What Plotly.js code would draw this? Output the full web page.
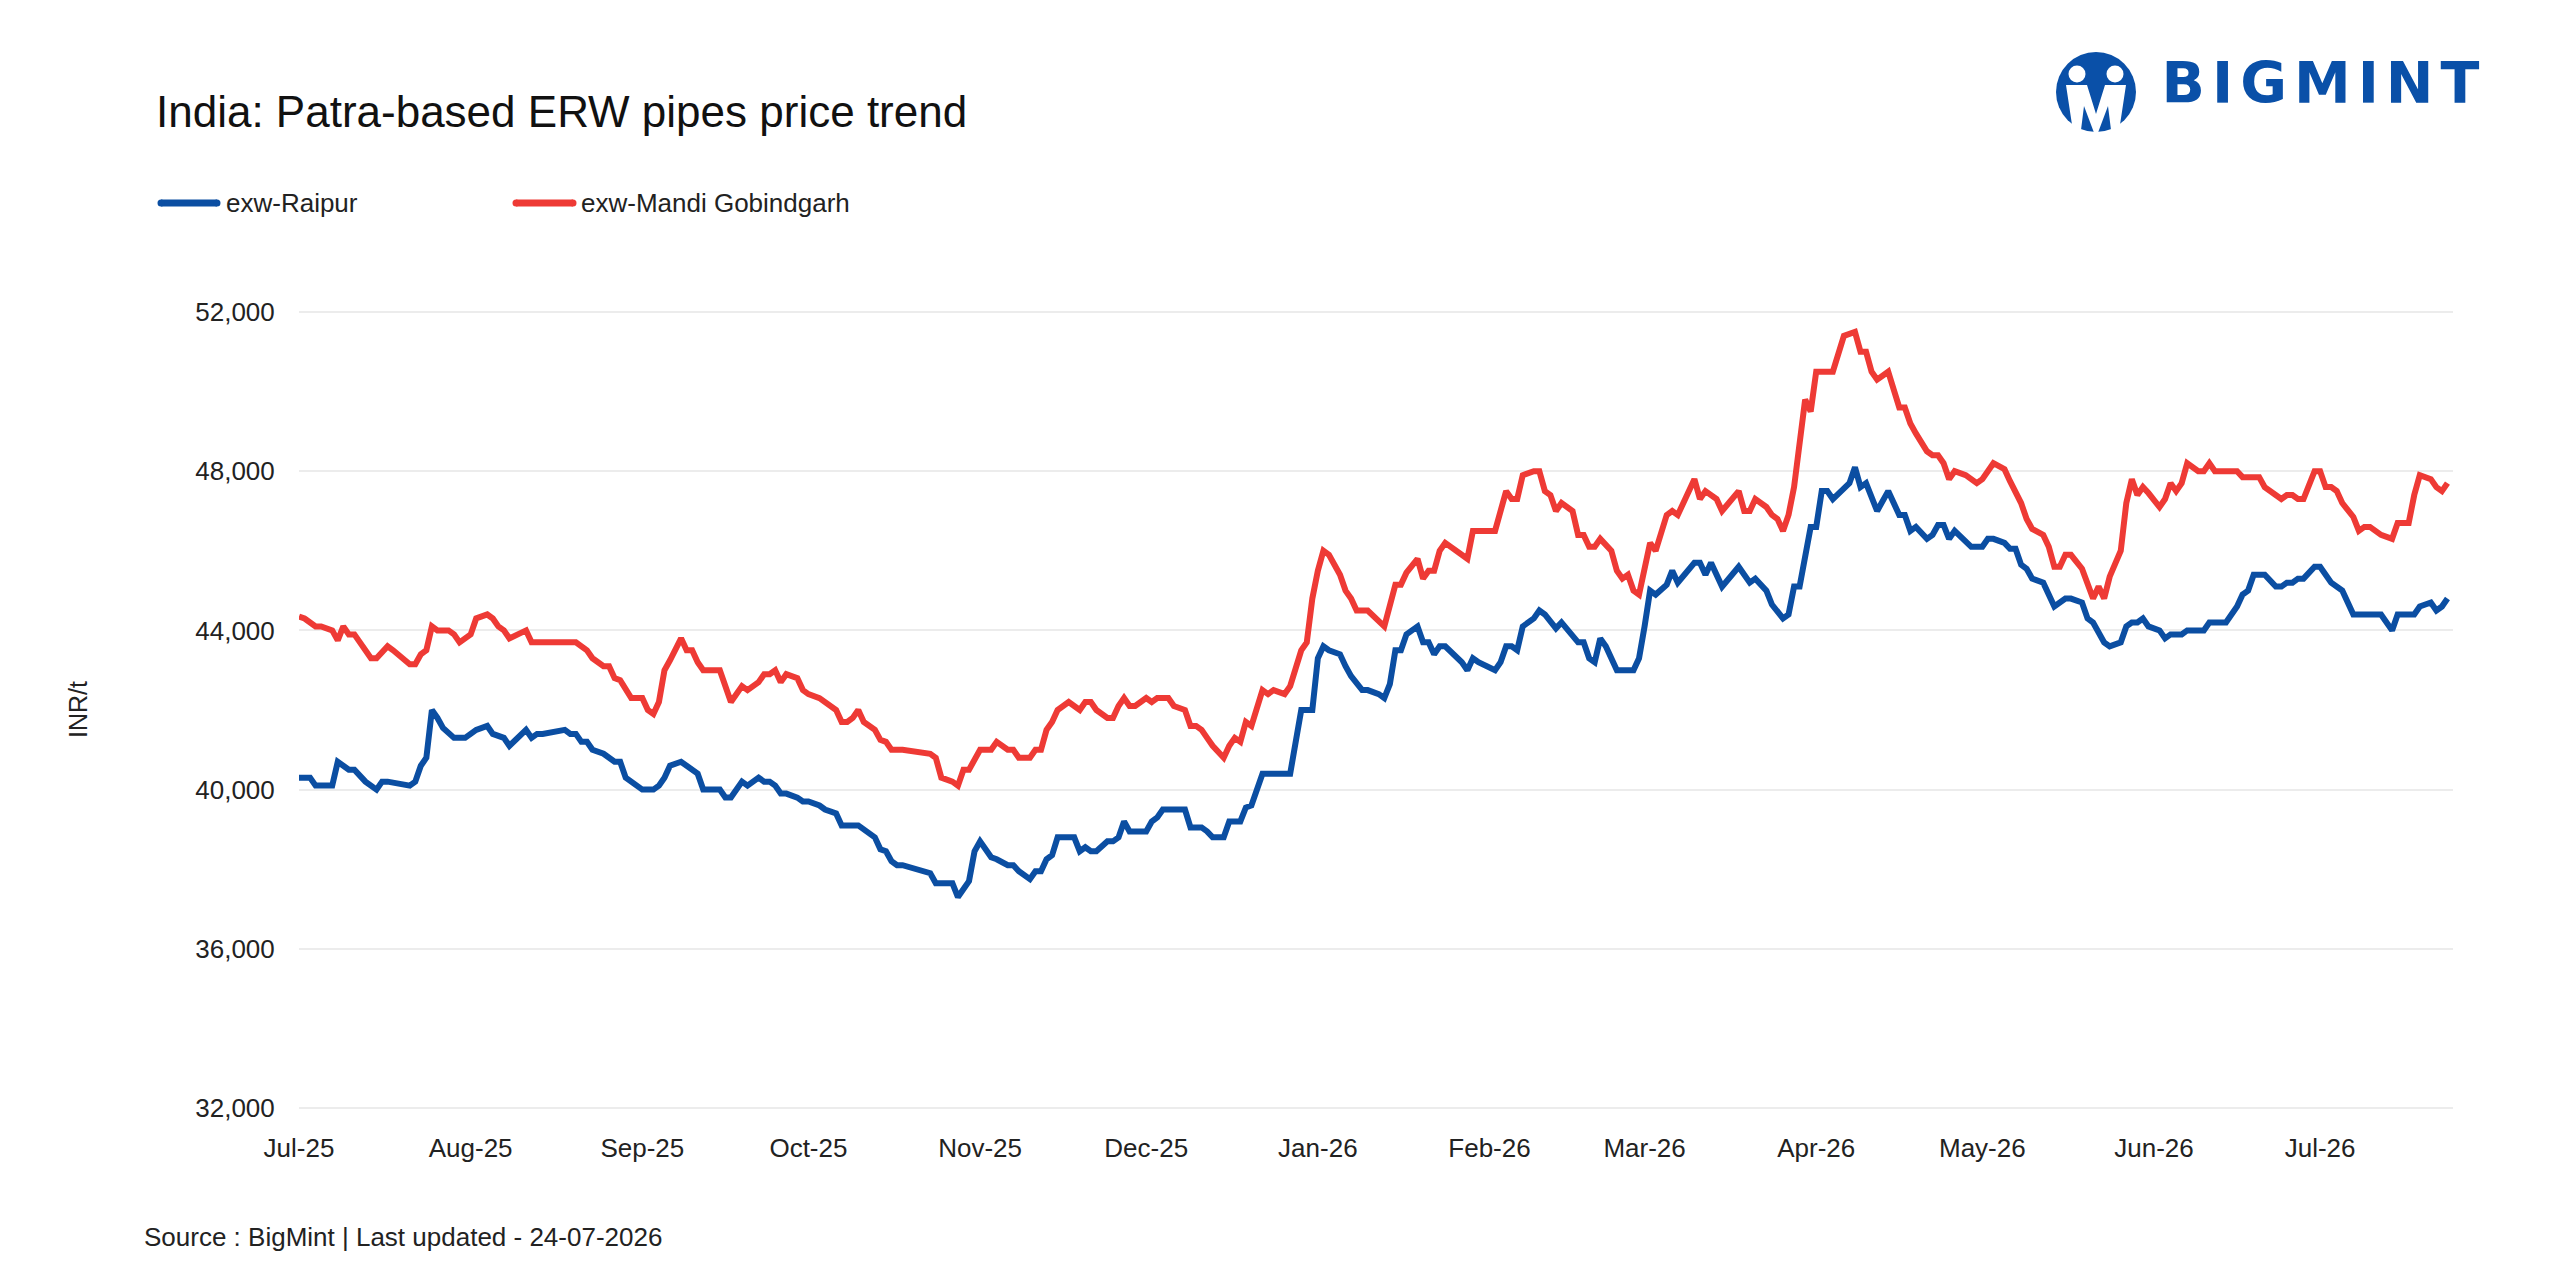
<!DOCTYPE html>
<html>
<head>
<meta charset="utf-8">
<title>India: Patra-based ERW pipes price trend</title>
<script src="https://cdn.plot.ly/plotly-3.0.1.min.js"></script>
<style>
    html, body { margin: 0; padding: 0; background: #ffffff; }
    #chart { width: 2560px; height: 1280px; }
    /* spread the logo word a little, like the brand mark */
    g.annotation[data-index="0"] text { letter-spacing: 7px; }
</style>
</head>
<body>
<div id="chart"></div>
<script>
// Price series (INR/t)

const raipurDates = [
    '2025-07-01','2025-07-03','2025-07-04','2025-07-07','2025-07-08','2025-07-10','2025-07-11','2025-07-13','2025-07-15','2025-07-16',
    '2025-07-17','2025-07-21','2025-07-22','2025-07-23','2025-07-24','2025-07-25','2025-07-26','2025-07-27','2025-07-29','2025-07-31',
    '2025-08-02','2025-08-04','2025-08-05','2025-08-07','2025-08-08','2025-08-11','2025-08-12','2025-08-13','2025-08-14','2025-08-18',
    '2025-08-19','2025-08-20','2025-08-21','2025-08-22','2025-08-23','2025-08-25','2025-08-27','2025-08-28','2025-08-29','2025-09-01',
    '2025-09-03','2025-09-04','2025-09-05','2025-09-06','2025-09-08','2025-09-09','2025-09-11','2025-09-12','2025-09-15','2025-09-16',
    '2025-09-17','2025-09-19','2025-09-20','2025-09-22','2025-09-23','2025-09-24','2025-09-25','2025-09-26','2025-09-27','2025-09-29',
    '2025-09-30','2025-10-01','2025-10-03','2025-10-04','2025-10-06','2025-10-07','2025-10-10','2025-10-13','2025-10-14','2025-10-15',
    '2025-10-16','2025-10-17','2025-10-18','2025-10-23','2025-10-24','2025-10-27','2025-10-28','2025-10-30','2025-10-31','2025-11-01',
    '2025-11-03','2025-11-04','2025-11-06','2025-11-07','2025-11-08','2025-11-10','2025-11-11','2025-11-12','2025-11-13','2025-11-14',
    '2025-11-15','2025-11-18','2025-11-19','2025-11-20','2025-11-21','2025-11-22','2025-11-24','2025-11-25','2025-11-26','2025-11-27',
    '2025-11-28','2025-12-01','2025-12-02','2025-12-03','2025-12-04','2025-12-08','2025-12-09','2025-12-11','2025-12-12','2025-12-13',
    '2025-12-15','2025-12-16','2025-12-18','2025-12-19','2025-12-20','2025-12-22','2025-12-27','2025-12-29','2025-12-31','2026-01-01',
    '2026-01-02','2026-01-03','2026-01-05','2026-01-06','2026-01-07','2026-01-09','2026-01-10','2026-01-12','2026-01-13','2026-01-14',
    '2026-01-15','2026-01-16','2026-01-17','2026-01-19','2026-01-20','2026-01-21','2026-01-22','2026-01-23','2026-01-24','2026-01-27',
    '2026-01-28','2026-01-29','2026-01-30','2026-02-02','2026-02-03','2026-02-04','2026-02-05','2026-02-06','2026-02-07','2026-02-09',
    '2026-02-10','2026-02-11','2026-02-12','2026-02-13','2026-02-14','2026-02-16','2026-02-17','2026-02-18','2026-02-19','2026-02-20',
    '2026-02-21','2026-02-22','2026-02-23','2026-02-24','2026-02-27','2026-02-28','2026-03-01','2026-03-02','2026-03-03','2026-03-05',
    '2026-03-06','2026-03-07','2026-03-10','2026-03-11','2026-03-12','2026-03-13','2026-03-15','2026-03-18','2026-03-20','2026-03-21',
    '2026-03-23','2026-03-24','2026-03-26','2026-03-27','2026-03-28','2026-03-29','2026-03-31','2026-04-01','2026-04-02','2026-04-03',
    '2026-04-04','2026-04-07','2026-04-08','2026-04-09','2026-04-10','2026-04-12','2026-04-14','2026-04-16','2026-04-17','2026-04-18',
    '2026-04-19','2026-04-21','2026-04-22','2026-04-23','2026-04-24','2026-04-25','2026-04-26','2026-04-28','2026-04-29','2026-05-01',
    '2026-05-02','2026-05-03','2026-05-05','2026-05-06','2026-05-07','2026-05-08','2026-05-09','2026-05-10','2026-05-12','2026-05-14',
    '2026-05-16','2026-05-17','2026-05-19','2026-05-20','2026-05-21','2026-05-23','2026-05-24','2026-05-26','2026-05-27','2026-05-28',
    '2026-05-29','2026-05-30','2026-05-31','2026-06-02','2026-06-03','2026-06-04','2026-06-06','2026-06-07','2026-06-10','2026-06-11',
    '2026-06-14','2026-06-16','2026-06-17','2026-06-18','2026-06-19','2026-06-21','2026-06-23','2026-06-24','2026-06-25','2026-06-26',
    '2026-06-27','2026-06-28','2026-06-30','2026-07-01','2026-07-03','2026-07-05','2026-07-07','2026-07-12','2026-07-14','2026-07-15',
    '2026-07-18','2026-07-19','2026-07-21','2026-07-22','2026-07-23','2026-07-24'
];
const raipurPrices = [
    40300,40300,40100,40100,40700,40500,40500,40200,40000,40200,
    40200,40100,40200,40600,40800,42000,41800,41550,41300,41300,
    41500,41600,41400,41300,41100,41500,41300,41400,41400,41500,
    41400,41400,41200,41200,41000,40900,40700,40700,40300,40000,
    40000,40100,40300,40600,40700,40600,40400,40000,40000,39800,
    39800,40200,40100,40300,40200,40200,40100,39900,39900,39800,
    39700,39700,39600,39500,39400,39100,39100,38800,38500,38450,
    38200,38100,38100,37900,37650,37650,37300,37700,38450,38700,
    38300,38250,38100,38100,37950,37750,37950,37950,38250,38350,
    38800,38800,38450,38550,38450,38450,38700,38700,38800,39200,
    38950,38950,39200,39300,39500,39500,39050,39050,38950,38800,
    38800,39200,39200,39550,39600,40400,40400,42000,42000,43300,
    43600,43500,43400,43100,42850,42500,42500,42400,42300,42650,
    43500,43500,43900,44100,43700,43700,43400,43600,43600,43200,
    43000,43300,43200,43000,43200,43600,43600,43500,44100,44300,
    44500,44400,44200,44050,44200,43900,43700,43700,43300,43200,
    43800,43600,43300,43000,43000,43300,44100,45000,44900,45150,
    45500,45200,45700,45700,45400,45700,45100,45600,45200,45300,
    45000,44650,44300,44400,45100,45100,46600,46600,47500,47500,
    47300,47700,48100,47600,47700,47000,47500,46900,46900,46500,
    46600,46300,46400,46650,46650,46300,46500,46200,46100,46100,
    46300,46300,46200,46050,46050,45650,45550,45300,45200,44600,
    44800,44800,44700,44300,44200,43700,43600,43700,44100,44200,
    44200,44300,44100,44000,43800,43900,43900,44000,44000,44200,
    44200,44600,44900,45000,45400,45400,45100,45100,45200,45200,
    45300,45300,45600,45600,45200,45000,44400,44400,44000,44400,
    44400,44600,44700,44500,44600,44800
];

const gobindgarhDates = [
    '2025-07-01','2025-07-02','2025-07-04','2025-07-05','2025-07-07','2025-07-08','2025-07-09','2025-07-10','2025-07-11','2025-07-14',
    '2025-07-15','2025-07-16','2025-07-17','2025-07-18','2025-07-21','2025-07-22','2025-07-23','2025-07-24','2025-07-25','2025-07-26',
    '2025-07-28','2025-07-29','2025-07-30','2025-08-01','2025-08-02','2025-08-04','2025-08-05','2025-08-06','2025-08-07','2025-08-08',
    '2025-08-11','2025-08-12','2025-08-14','2025-08-20','2025-08-22','2025-08-23','2025-08-25','2025-08-26','2025-08-27','2025-08-28',
    '2025-08-30','2025-09-01','2025-09-02','2025-09-03','2025-09-04','2025-09-05','2025-09-06','2025-09-08','2025-09-09','2025-09-10',
    '2025-09-11','2025-09-12','2025-09-15','2025-09-16','2025-09-17','2025-09-19','2025-09-20','2025-09-22','2025-09-23','2025-09-24',
    '2025-09-25','2025-09-26','2025-09-27','2025-09-29','2025-09-30','2025-10-01','2025-10-03','2025-10-06','2025-10-07','2025-10-08',
    '2025-10-09','2025-10-10','2025-10-11','2025-10-13','2025-10-14','2025-10-15','2025-10-16','2025-10-18','2025-10-23','2025-10-24',
    '2025-10-25','2025-10-27','2025-10-28','2025-10-29','2025-10-30','2025-11-01','2025-11-03','2025-11-04','2025-11-06','2025-11-07',
    '2025-11-08','2025-11-10','2025-11-11','2025-11-12','2025-11-13','2025-11-14','2025-11-15','2025-11-17','2025-11-19','2025-11-20',
    '2025-11-21','2025-11-22','2025-11-24','2025-11-25','2025-11-26','2025-11-27','2025-11-28','2025-11-29','2025-12-01','2025-12-02',
    '2025-12-03','2025-12-05','2025-12-06','2025-12-08','2025-12-09','2025-12-10','2025-12-11','2025-12-12','2025-12-13','2025-12-15',
    '2025-12-16','2025-12-17','2025-12-18','2025-12-19','2025-12-20','2025-12-22','2025-12-23','2025-12-24','2025-12-26','2025-12-27',
    '2025-12-29','2025-12-30','2025-12-31','2026-01-01','2026-01-02','2026-01-03','2026-01-05','2026-01-06','2026-01-07','2026-01-08',
    '2026-01-10','2026-01-13','2026-01-15','2026-01-16','2026-01-17','2026-01-19','2026-01-20','2026-01-21','2026-01-22','2026-01-23',
    '2026-01-24','2026-01-28','2026-01-29','2026-02-02','2026-02-03','2026-02-04','2026-02-05','2026-02-06','2026-02-07','2026-02-09',
    '2026-02-10','2026-02-11','2026-02-12','2026-02-13','2026-02-14','2026-02-16','2026-02-17','2026-02-18','2026-02-19','2026-02-20',
    '2026-02-21','2026-02-23','2026-02-24','2026-02-25','2026-02-26','2026-02-27','2026-02-28','2026-03-01','2026-03-02','2026-03-03',
    '2026-03-05','2026-03-06','2026-03-07','2026-03-10','2026-03-11','2026-03-12','2026-03-14','2026-03-15','2026-03-18','2026-03-19',
    '2026-03-20','2026-03-21','2026-03-23','2026-03-24','2026-03-25','2026-03-26','2026-03-27','2026-03-28','2026-03-29','2026-03-30',
    '2026-03-31','2026-04-01','2026-04-04','2026-04-06','2026-04-08','2026-04-09','2026-04-10','2026-04-11','2026-04-12','2026-04-14',
    '2026-04-15','2026-04-16','2026-04-17','2026-04-18','2026-04-19','2026-04-21','2026-04-22','2026-04-23','2026-04-24','2026-04-25',
    '2026-04-26','2026-04-28','2026-04-30','2026-05-01','2026-05-03','2026-05-05','2026-05-06','2026-05-07','2026-05-08','2026-05-09',
    '2026-05-10','2026-05-12','2026-05-13','2026-05-14','2026-05-15','2026-05-16','2026-05-17','2026-05-19','2026-05-20','2026-05-21',
    '2026-05-22','2026-05-23','2026-05-24','2026-05-26','2026-05-27','2026-05-28','2026-05-29','2026-05-30','2026-05-31','2026-06-02',
    '2026-06-03','2026-06-04','2026-06-05','2026-06-06','2026-06-07','2026-06-09','2026-06-10','2026-06-11','2026-06-12','2026-06-16',
    '2026-06-17','2026-06-20','2026-06-21','2026-06-24','2026-06-25','2026-06-26','2026-06-27','2026-06-28','2026-06-30','2026-07-01',
    '2026-07-02','2026-07-03','2026-07-04','2026-07-05','2026-07-07','2026-07-08','2026-07-09','2026-07-10','2026-07-12','2026-07-14',
    '2026-07-15','2026-07-17','2026-07-18','2026-07-19','2026-07-21','2026-07-22','2026-07-23','2026-07-24'
];
const gobindgarhPrices = [
    44350,44300,44100,44100,44000,43750,44100,43900,43900,43300,
    43300,43450,43600,43500,43150,43150,43400,43500,44100,44000,
    44000,43900,43700,43900,44300,44400,44300,44100,44000,43800,
    44000,43700,43700,43700,43500,43300,43100,43100,42800,42750,
    42300,42300,42000,41900,42200,43000,43250,43800,43500,43500,
    43200,43000,43000,42550,42200,42600,42500,42700,42900,42900,
    43000,42700,42900,42800,42500,42400,42300,42000,41700,41700,
    41800,42000,41700,41500,41250,41200,41000,41000,40900,40800,
    40300,40200,40100,40500,40500,41000,41000,41200,41000,41000,
    40800,40800,41000,41000,41500,41700,42000,42200,42000,42200,
    42200,42000,41800,41800,42100,42300,42100,42100,42300,42200,
    42300,42300,42100,42000,41600,41600,41500,41300,41100,40800,
    41100,41300,41200,41700,41600,42500,42400,42500,42400,42600,
    43500,43700,44800,45500,46000,45900,45400,45000,44800,44500,
    44500,44100,45150,45150,45450,45800,45300,45500,45500,46000,
    46200,45800,46500,46500,47000,47500,47300,47300,47900,48000,
    48000,47500,47400,47000,47200,47000,46400,46400,46100,46100,
    46300,46000,45500,45300,45400,45000,44900,45550,46200,46000,
    46900,47000,46900,47800,47300,47500,47300,47000,47500,47000,
    47000,47300,47100,46900,46800,46500,46900,47600,48850,49800,
    49500,50500,50500,51400,51500,51000,51000,50500,50300,50500,
    50050,49600,49600,49200,48950,48500,48400,48400,48200,47800,
    48000,47900,47700,47800,48200,48050,47750,47500,47200,46800,
    46550,46400,46100,45600,45600,45900,45900,45550,45200,44800,
    45100,44800,45350,46000,47200,47800,47400,47600,47450,47100,
    47300,47700,47500,47700,48200,48000,48000,48200,48000,48000,
    47850,47850,47600,47300,47400,47400,47300,47300,48000,48000,
    47600,47600,47500,47200,46850,46500,46600,46600,46400,46300,
    46700,46700,47400,47900,47800,47600,47500,47700
];

const seriesNames = ['exw-Raipur', 'exw-Mandi Gobindgarh'];
const seriesColors = ['#0b4ea2', '#ee3a35'];

const chartTitle = 'India: Patra-based ERW pipes price trend';
const sourceNote = 'Source : BigMint | Last updated - 24-07-2026';

// Page geometry (pixels of the 2560x1280 picture)
const W = 2560, H = 1280;
const M = {l: 299, r: 107, t: 310, b: 170};
const plotW = W - M.l - M.r;
const plotH = H - M.t - M.b;
const FONT = '"Liberation Sans", Arial, sans-serif';

function px(x) { return (x - M.l) / plotW; }
function py(y) { return (H - M.b - y) / plotH; }

document.addEventListener('DOMContentLoaded', function() {
    drawChart();
});

function logoEmblem() {
    const svg =
        '<svg xmlns="http://www.w3.org/2000/svg" viewBox="0 0 80 86">' +
        '<circle cx="40" cy="40" r="40" fill="#0a50a8"/>' +
        '<circle cx="21" cy="22" r="8.5" fill="#fff"/>' +
        '<circle cx="59" cy="22" r="8.5" fill="#fff"/>' +
        '<path d="M10 33 H31 L40 62 L49 33 H70 L62 86 H56 L52 54 L40 86 L28 54 L24 86 H18 Z" fill="#fff"/>' +
        '</svg>';
    return 'data:image/svg+xml;charset=utf-8,' + encodeURIComponent(svg);
}

function drawChart() {
    const traces = [
        {x: raipurDates, y: raipurPrices, name: seriesNames[0]},
        {x: gobindgarhDates, y: gobindgarhPrices, name: seriesNames[1]}
    ].map((t, i) => ({
        x: t.x,
        y: t.y,
        name: t.name,
        type: 'scatter',
        mode: 'lines',
        line: {color: seriesColors[i], width: 6},
        hoverinfo: 'x+y+name'
    }));

    // hand-made legend: long rounded swatches like the original
    const legendLines = [
        {x0: 161, x1: 217},
        {x0: 516, x1: 573}
    ];
    const legendTextX = [224, 579];
    const capR = 3.5;

    let shapes = [];
    legendLines.forEach((s, i) => {
        shapes.push({
            type: 'line', xref: 'paper', yref: 'paper',
            x0: px(s.x0), x1: px(s.x1), y0: py(203), y1: py(203),
            line: {color: seriesColors[i], width: 7}
        });
        [s.x0, s.x1].forEach(cx => shapes.push({
            type: 'circle', xref: 'paper', yref: 'paper',
            x0: px(cx - capR), x1: px(cx + capR), y0: py(203 + capR), y1: py(203 - capR),
            fillcolor: seriesColors[i], line: {width: 0}
        }));
    });

    const annotations = [
        {   // logo word (index 0, letter-spaced by css)
            text: 'BIGMINT', xref: 'paper', yref: 'paper',
            x: px(2184), y: py(83), xanchor: 'left', yanchor: 'middle',
            showarrow: false,
            font: {family: '"DejaVu Sans", sans-serif', size: 57, weight: 'bold', color: '#0a50a8'}
        },
        {
            text: 'INR/t', xref: 'paper', yref: 'paper',
            x: px(78), y: 0.5, xanchor: 'center', yanchor: 'middle',
            textangle: -90, showarrow: false,
            font: {family: FONT, size: 25, color: '#222222'}
        },
        {
            text: sourceNote, xref: 'paper', yref: 'paper',
            x: px(142), y: py(1237), xanchor: 'left', yanchor: 'middle',
            showarrow: false,
            font: {family: FONT, size: 26, color: '#222222'}
        }
    ].concat(seriesNames.map((name, i) => ({
        text: name, xref: 'paper', yref: 'paper',
        x: px(legendTextX[i]), y: py(203), xanchor: 'left', yanchor: 'middle',
        showarrow: false,
        font: {family: FONT, size: 26, color: '#222222'}
    })));

    const layout = {
        width: W,
        height: H,
        paper_bgcolor: '#ffffff',
        plot_bgcolor: '#ffffff',
        margin: M,
        showlegend: false,
        title: {
            text: chartTitle,
            font: {family: FONT, size: 44, color: '#111111'},
            xref: 'container', yref: 'container',
            x: 156 / W, xanchor: 'left',
            y: 1 - 112 / H, yanchor: 'middle'
        },
        xaxis: {
            type: 'date',
            range: ['2025-07-01', '2026-07-25'],
            tick0: '2025-07-01',
            dtick: 'M1',
            tickformat: '%b-%y',
            showgrid: false,
            zeroline: false,
            showline: false,
            ticks: 'outside',
            ticklen: 15,
            tickcolor: 'rgba(0,0,0,0)',
            tickfont: {family: FONT, size: 26, color: '#222222'}
        },
        yaxis: {
            range: [31950, 52050],
            tick0: 32000,
            dtick: 4000,
            tickformat: ',d',
            showgrid: true,
            gridcolor: '#ececec',
            gridwidth: 2,
            zeroline: false,
            showline: false,
            ticks: 'outside',
            ticklen: 18,
            tickcolor: 'rgba(0,0,0,0)',
            tickfont: {family: FONT, size: 26, color: '#222222'}
        },
        shapes: shapes,
        annotations: annotations,
        images: [{
            source: logoEmblem(),
            xref: 'paper', yref: 'paper',
            x: px(2056), y: py(52),
            sizex: 80 / plotW, sizey: 86 / plotH,
            xanchor: 'left', yanchor: 'top',
            sizing: 'stretch', layer: 'above'
        }]
    };

    Plotly.newPlot('chart', traces, layout, {displayModeBar: false, staticPlot: true});
}
</script>
</body>
</html>
